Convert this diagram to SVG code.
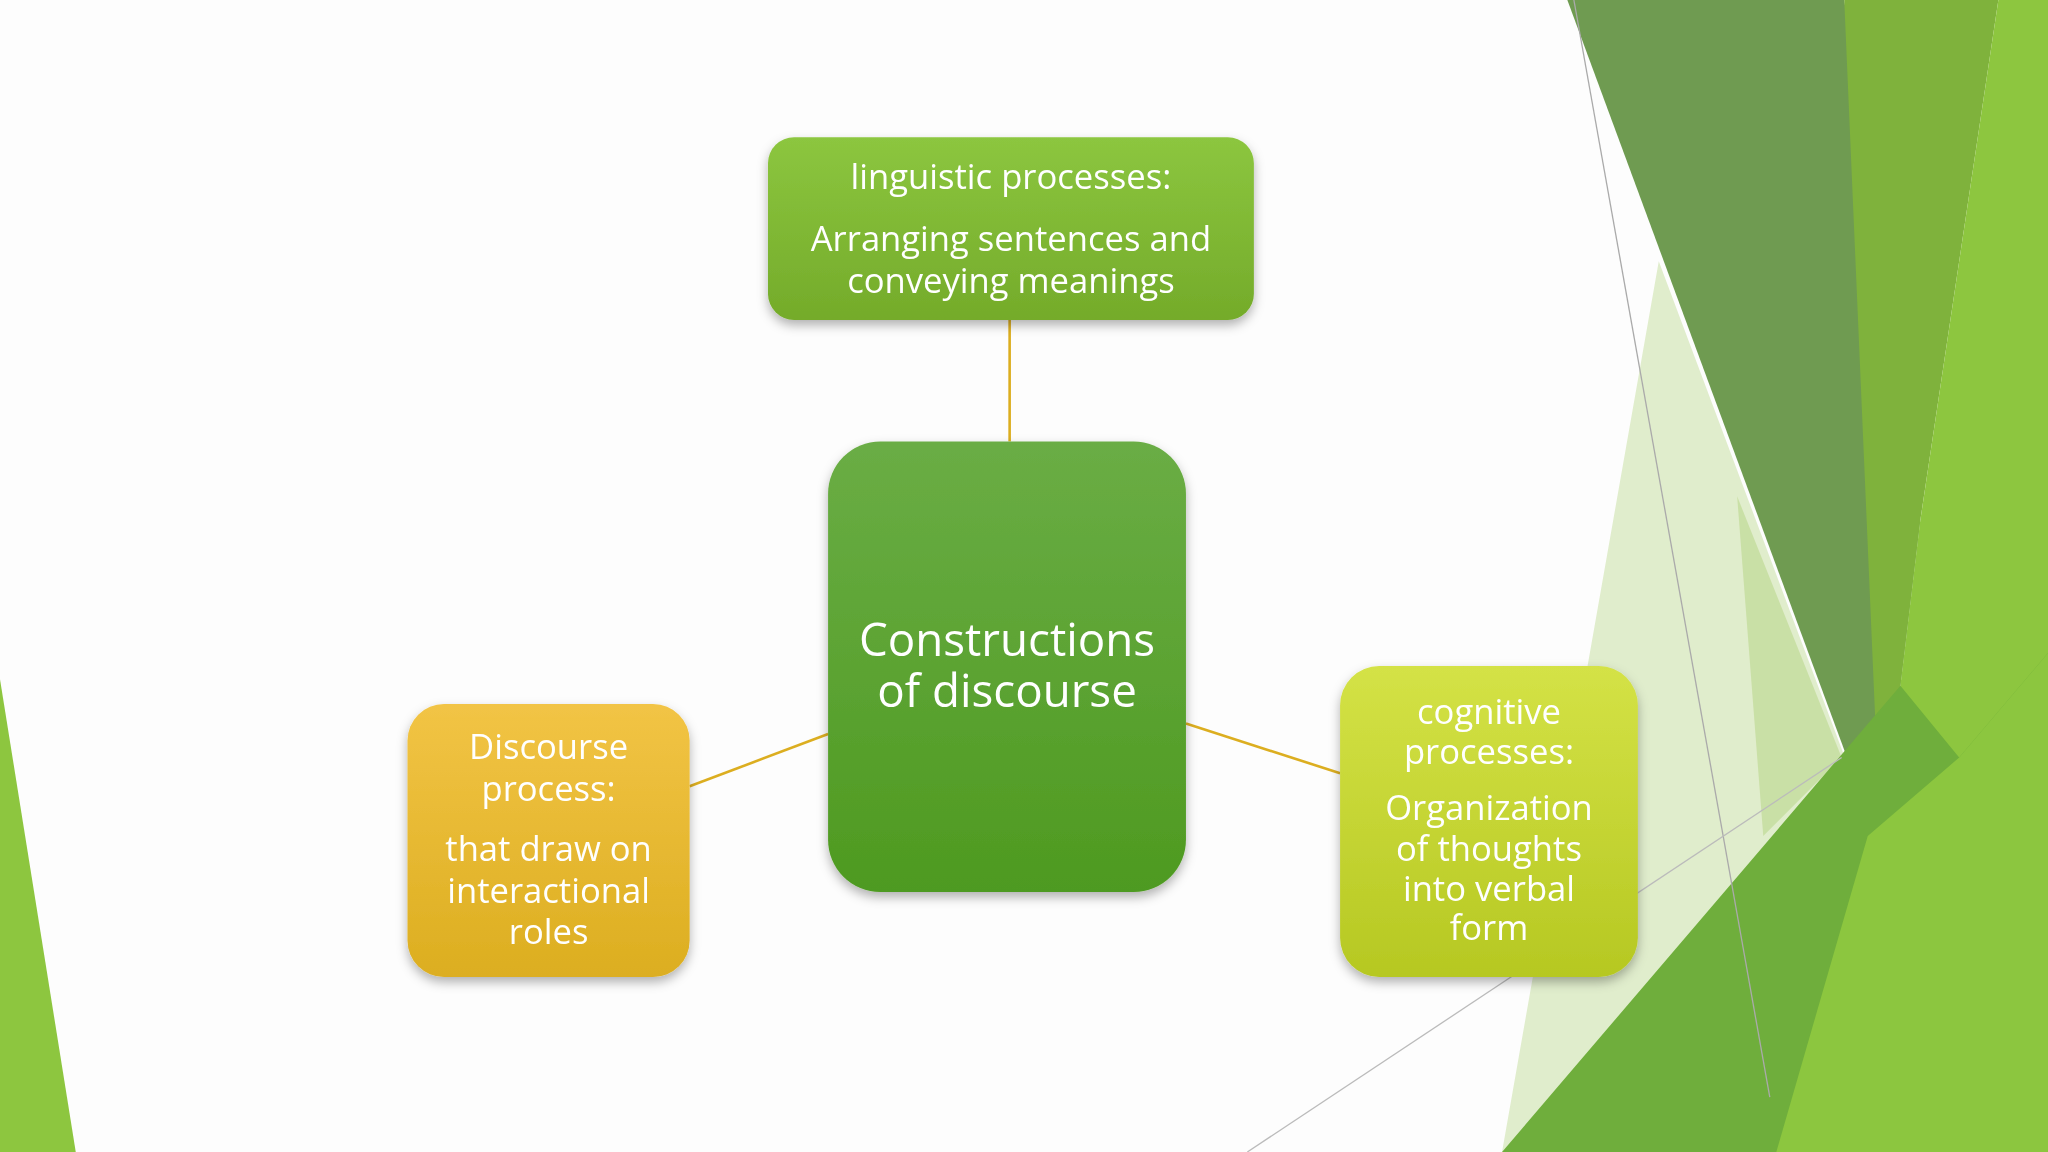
<svg xmlns="http://www.w3.org/2000/svg" width="2048" height="1152" viewBox="0 0 2048 1152">
<style>
.t{font-family:"Open Sans","DejaVu Sans",sans-serif;fill:#fff;text-anchor:middle}
.n{font-size:26.5px}.c{font-size:35px}
.k{stroke:#dcae20;stroke-width:2;fill:none}
</style>
<defs>
<linearGradient id="gT" x1="0" y1="0" x2="0" y2="1"><stop offset="0" stop-color="#8cc63f"/><stop offset="1" stop-color="#74ab2a"/></linearGradient>
<linearGradient id="gC" x1="0" y1="0" x2="0" y2="1"><stop offset="0" stop-color="#6aad45"/><stop offset="1" stop-color="#4e9a20"/></linearGradient>
<linearGradient id="gL" x1="0" y1="0" x2="0" y2="1"><stop offset="0" stop-color="#f2c445"/><stop offset="1" stop-color="#dcae20"/></linearGradient>
<linearGradient id="gR" x1="0" y1="0" x2="0" y2="1"><stop offset="0" stop-color="#d4e246"/><stop offset="1" stop-color="#b6c822"/></linearGradient>
<filter id="sh" x="-10%" y="-10%" width="120%" height="130%"><feDropShadow dx="0" dy="4" stdDeviation="4" flood-color="#000" flood-opacity="0.3"/></filter>
</defs>
<rect width="2048" height="1152" fill="#fdfdfd"/>
<g transform="scale(1.30612)">
<g id="background">
<polygon points="0,520 58,882 0,882" fill="#8dc63f"/>
<polygon points="1270,200 1420,600 1300,720 1200,882 1150,882" fill="#e0edcc"/>
<polygon points="1330,380 1410,580 1350,640" fill="#c9e0a6"/>
<polygon points="1200,0 1412,0 1470,400 1440,650" fill="#6f9b51"/>
<polygon points="1412,0 1530,0 1470,400 1440,650" fill="#7fb23c"/>
<polygon points="1530,0 1568,0 1568,882 1400,882 1440,650 1470,400" fill="#8dc63f"/>
<polygon points="1150,882 1455,525 1500,580 1568,500 1568,882" fill="#6fae3c"/>
<polygon points="1430,640 1500,580 1568,500 1568,882 1360,882" fill="#8cc63f"/>
<line x1="1205" y1="0" x2="1355" y2="840" stroke="#aaa" stroke-width="1"/>
<line x1="955" y1="882" x2="1410" y2="580" stroke="#bbb" stroke-width="1"/>
</g>
<g id="connectors">
<line class="k" x1="773" y1="245" x2="773" y2="338"/>
<line class="k" x1="528" y1="602" x2="634" y2="562"/>
<line class="k" x1="908" y1="554" x2="1026" y2="592"/>
</g>
<g id="top" filter="url(#sh)">
<rect x="588" y="105" width="372" height="140" rx="20" fill="url(#gT)"/>
<text class="t n" x="774" y="145">linguistic processes:</text>
<text class="t n" x="774" y="192">Arranging sentences and</text>
<text class="t n" x="774" y="224">conveying meanings</text>
</g>
<g id="center" filter="url(#sh)">
<rect x="634" y="338" width="274" height="345" rx="40" fill="url(#gC)"/>
<text class="t c" x="771" y="502">Constructions</text>
<text class="t c" x="771" y="541">of discourse</text>
</g>
<g id="left" filter="url(#sh)">
<rect x="312" y="539" width="216" height="209" rx="28" fill="url(#gL)"/>
<text class="t n" x="420" y="581">Discourse</text>
<text class="t n" x="420" y="613">process:</text>
<text class="t n" x="420" y="659">that draw on</text>
<text class="t n" x="420" y="691">interactional</text>
<text class="t n" x="420" y="723">roles</text>
</g>
<g id="right" filter="url(#sh)">
<rect x="1026" y="510" width="228" height="238" rx="30" fill="url(#gR)"/>
<text class="t n" x="1140" y="554">cognitive</text>
<text class="t n" x="1140" y="585">processes:</text>
<text class="t n" x="1140" y="628">Organization</text>
<text class="t n" x="1140" y="659">of thoughts</text>
<text class="t n" x="1140" y="690">into verbal</text>
<text class="t n" x="1140" y="720">form</text>
</g>
</g>
</svg>
